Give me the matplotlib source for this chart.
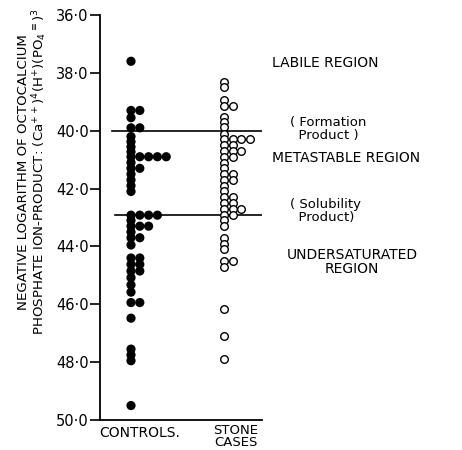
import matplotlib
matplotlib.use("Agg")
import matplotlib.pyplot as plt
from matplotlib.ticker import FuncFormatter

# ---- data (negative log of ion product) ----
controls = [37.6,
            39.3, 39.3, 39.55, 39.9, 39.9,
            40.2, 40.38, 40.56, 40.73, 40.9, 40.9, 40.9, 40.9, 40.9,
            41.1, 41.3, 41.3, 41.5, 41.7, 41.9, 42.1,
            42.92, 42.92, 42.92, 42.92, 43.1, 43.3, 43.3, 43.3, 43.5,
            43.7, 43.7, 43.95,
            44.4, 44.4, 44.62, 44.62, 44.85, 44.85,
            45.08, 45.33, 45.58, 45.94, 45.94, 46.48,
            47.55, 47.75, 47.95, 49.5]

stone_cases = [38.3, 38.5, 38.95, 39.15, 39.15,
               39.52, 39.7, 39.88, 40.1, 40.3, 40.3, 40.3, 40.3,
               40.5, 40.5, 40.7, 40.7, 40.7, 40.9, 40.9,
               41.1, 41.3, 41.5, 41.5, 41.7, 41.7, 41.9, 42.1,
               42.3, 42.3, 42.5, 42.5, 42.7, 42.7, 42.7, 42.9, 42.9,
               43.1, 43.28, 43.72, 43.9, 44.1, 44.5, 44.5, 44.7,
               46.15, 47.1, 47.9]

formation_product = 40.0
solubility_product = 42.9
y_ticks = [36, 38, 40, 42, 44, 46, 48, 50]
group_labels = ["CONTROLS.", "STONE\nCASES"]
region_labels = ["LABILE REGION", "METASTABLE REGION", "UNDERSATURATED\nREGION"]
line_labels = ["( Formation\n  Product )", "( Solubility\n  Product)"]


def stack_columns(values, gap):
    """Place sorted values into side-by-side columns so that dots don't overlap."""
    cols, out_v, out_c = [], [], []
    for v in sorted(values):
        c = 0
        while c < len(cols) and any(abs(v - u) < gap for u in cols[c]):
            c += 1
        if c == len(cols):
            cols.append([])
        cols[c].append(v)
        out_v.append(v)
        out_c.append(c)
    return out_v, out_c


W, H = 462, 450
fig = plt.figure(figsize=(W / 100, H / 100), dpi=100)
ax_l, ax_r, ax_t, ax_b = 100, 262, 15, 420
ax = fig.add_axes([ax_l / W, 1 - ax_b / H, (ax_r - ax_l) / W, (ax_b - ax_t) / H])
ax.set_xlim(0, 1)
ax.set_ylim(50, 36)

span = ax_r - ax_l
cv, cc = stack_columns(controls, 0.16)
ax.scatter([(131 - ax_l) / span + c * 8.8 / span for c in cc], cv,
           s=44, color="black", edgecolors="none", zorder=3)
sv, sc = stack_columns(stone_cases, 0.16)
ax.scatter([(224 - ax_l) / span + c * 8.5 / span for c in sc], sv,
           s=30, facecolors="white", edgecolors="black", linewidths=1.0, zorder=3)

ax.axhline(formation_product, xmin=(112 - ax_l) / span, xmax=1, color="black", lw=1.2)
ax.axhline(solubility_product, xmin=(115 - ax_l) / span, xmax=1, color="black", lw=1.2)

for s in ["top", "right"]:
    ax.spines[s].set_visible(False)
ax.spines["left"].set_linewidth(1.3)
ax.spines["bottom"].set_linewidth(1.3)
ax.set_xticks([])
ax.set_yticks(y_ticks)
ax.yaxis.set_major_formatter(FuncFormatter(lambda v, p: f"{v:.1f}".replace(".", "·")))
ax.tick_params(axis="y", direction="out", length=7, width=1.2, pad=1, labelsize=10.5)

fs = 10
fig.text(33 / W, 1 - 172 / H,
         "NEGATIVE LOGARITHM OF OCTOCALCIUM\n"
         r"PHOSPHATE ION-PRODUCT: (Ca$^{++}$)$^{4}$(H$^{+}$)(PO$_{4}$$^{\equiv}$)$^{3}$",
         rotation=90, ha="center", va="center", multialignment="center",
         fontsize=9.6, linespacing=1.0)

fig.text(272 / W, 1 - 63 / H, region_labels[0], ha="left", va="center", fontsize=fs)
fig.text(272 / W, 1 - 158 / H, region_labels[1], ha="left", va="center", fontsize=fs)
fig.text(352 / W, 1 - 262 / H, region_labels[2], ha="center", va="center",
         fontsize=fs, multialignment="center", linespacing=1.0)
fig.text(290 / W, 1 - 129 / H, line_labels[0], ha="left", va="center",
         fontsize=9.5, linespacing=1.0)
fig.text(290 / W, 1 - 211 / H, line_labels[1], ha="left", va="center",
         fontsize=9.5, linespacing=1.0)

fig.text(140 / W, 1 - 433 / H, group_labels[0], ha="center", va="center", fontsize=fs)
fig.text(236 / W, 1 - 424 / H, group_labels[1], ha="center", va="top",
         fontsize=9.5, multialignment="center", linespacing=0.85)

fig.savefig("out.png", dpi=100)
